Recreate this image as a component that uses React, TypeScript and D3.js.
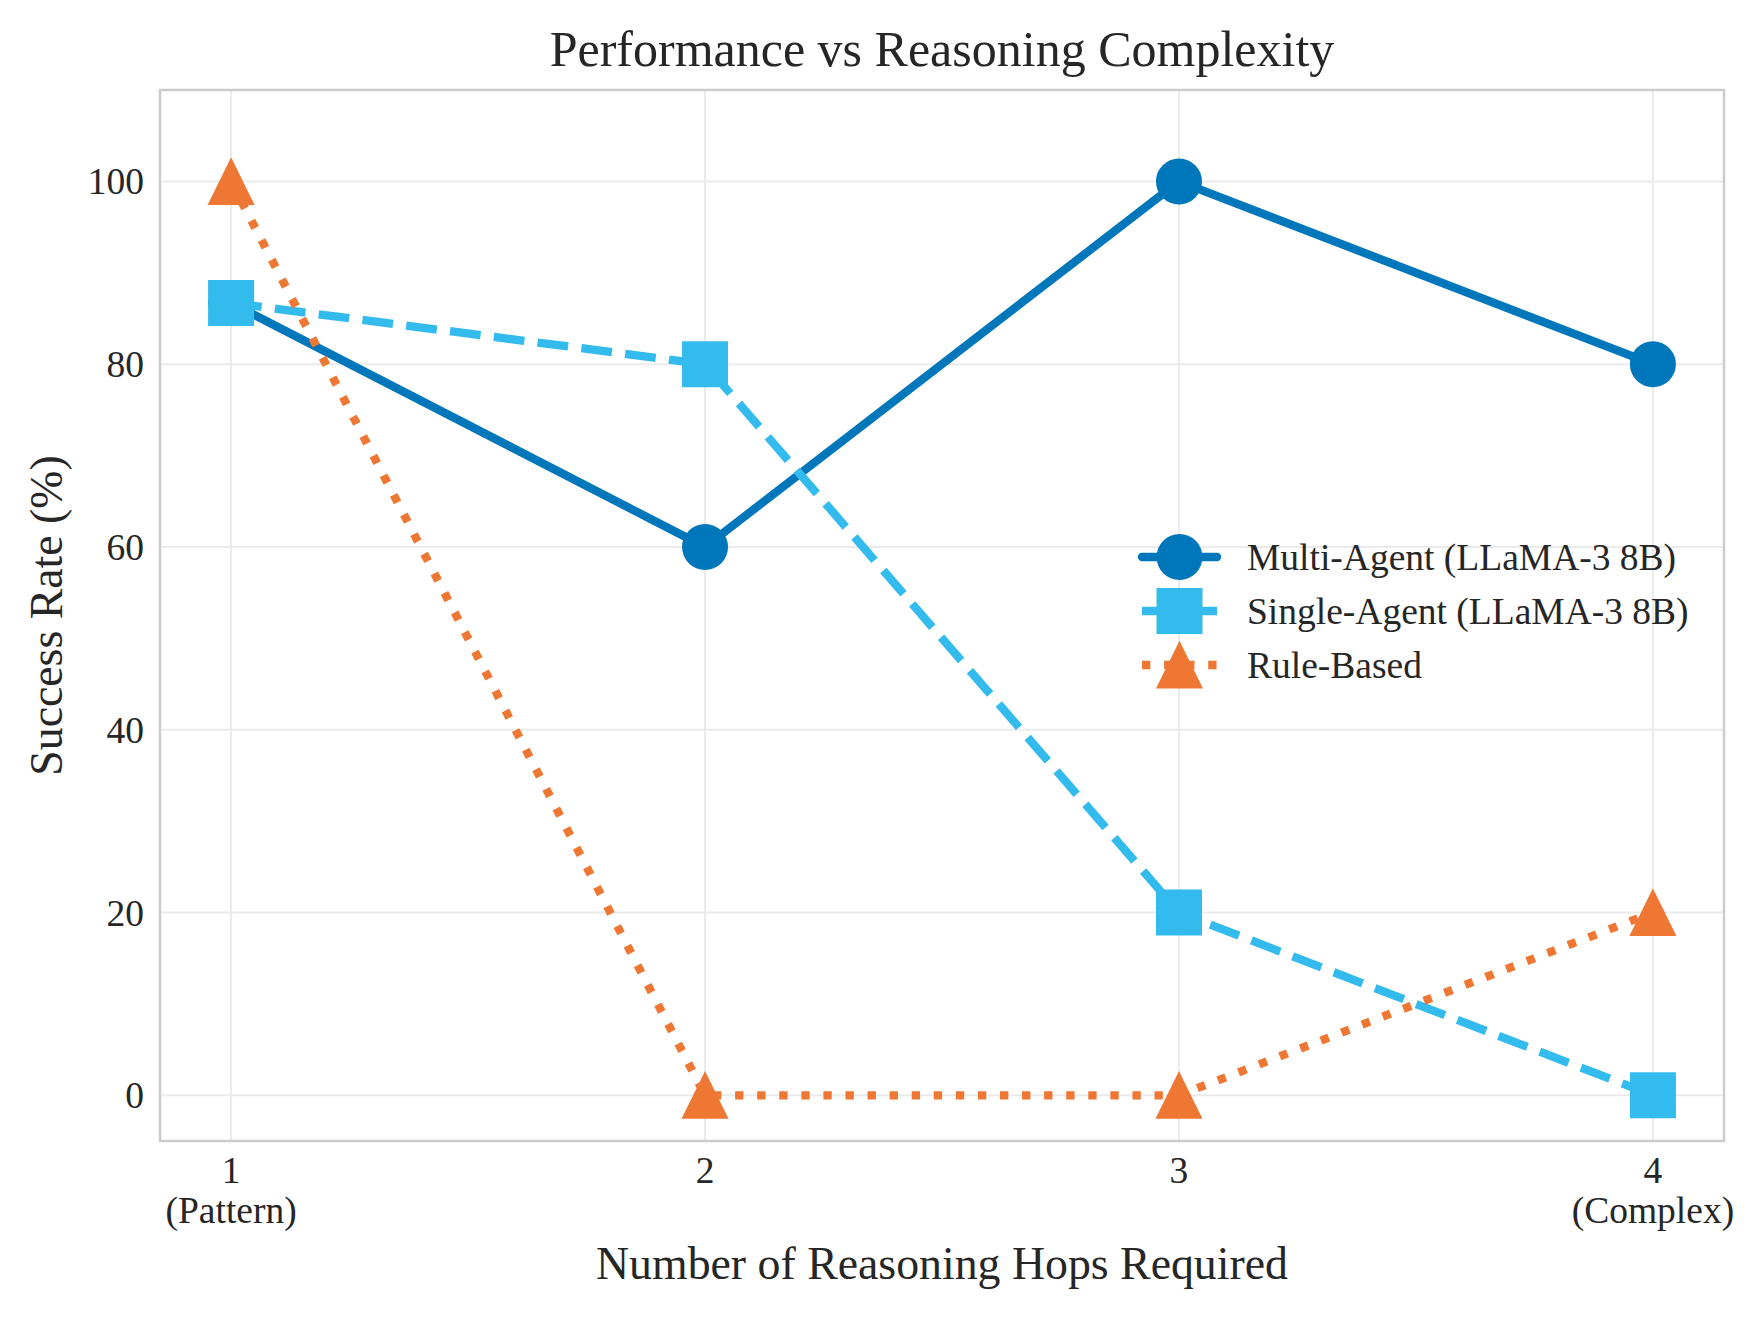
import { useEffect, useRef } from "react";
import * as d3 from "d3";

const hops = [1, 2, 3, 4];
const hopLabels = [["1", "(Pattern)"], ["2"], ["3"], ["4", "(Complex)"]];
const yTicks = [0, 20, 40, 60, 80, 100];

const multiAgent = [86.7, 60, 100, 80];
const singleAgent = [86.7, 80, 20, 0];
const ruleBased = [100, 0, 0, 20];

const seriesNames = ["Multi-Agent (LLaMA-3 8B)", "Single-Agent (LLaMA-3 8B)", "Rule-Based"];

// matplotlib-style "^" marker (width == height)
const symbolTriangleUp = {
  draw(ctx: d3.Path, size: number) {
    const r = Math.sqrt(size) / 2;
    ctx.moveTo(0, -r * 1.03);
    ctx.lineTo(r, r);
    ctx.lineTo(-r, r);
    ctx.closePath();
  },
};

const App = () => {
  const svgRef = useRef<SVGSVGElement>(null);

  useEffect(() => {
    if (!svgRef.current) return;
    const svg = d3.select(svgRef.current);
    svg.selectAll("*").remove();

    const width = 1763;
    const height = 1320;
    const margin = { top: 90, right: 39, bottom: 179, left: 160 };
    const font = '"Liberation Serif", "Times New Roman", serif';
    const textColor = "#262626";
    const lw = 8.33;

    svg.attr("viewBox", `0 0 ${width} ${height}`);

    const x = d3
      .scaleLinear()
      .domain([0.85, 4.15])
      .range([margin.left, width - margin.right]);
    const y = d3
      .scaleLinear()
      .domain([-5, 110])
      .range([height - margin.bottom, margin.top]);

    const series = [
      { name: seriesNames[0], values: multiAgent, color: "#0077BB", dash: null, cap: "round", symbol: d3.symbolCircle, size: Math.PI * 23 * 23 },
      { name: seriesNames[1], values: singleAgent, color: "#33BBEE", dash: `${3.7 * lw} ${1.6 * lw}`, cap: "butt", symbol: d3.symbolSquare, size: 46 * 46 },
      { name: seriesNames[2], values: ruleBased, color: "#EE7733", dash: `${lw} ${1.65 * lw}`, cap: "butt", symbol: symbolTriangleUp, size: 47 * 47 },
    ];

    svg.append("rect").attr("width", width).attr("height", height).attr("fill", "#fff");

    // Grid
    const grid = svg.append("g").attr("stroke", "#EBEBEB").attr("stroke-width", 2);
    grid
      .selectAll("line.gx")
      .data(hops)
      .join("line")
      .attr("class", "gx")
      .attr("x1", (d) => x(d))
      .attr("x2", (d) => x(d))
      .attr("y1", margin.top)
      .attr("y2", height - margin.bottom);
    grid
      .selectAll("line.gy")
      .data(yTicks)
      .join("line")
      .attr("class", "gy")
      .attr("x1", margin.left)
      .attr("x2", width - margin.right)
      .attr("y1", (d) => y(d))
      .attr("y2", (d) => y(d));

    // Lines + markers
    const line = d3
      .line<number>()
      .x((_, i) => x(hops[i]))
      .y((d) => y(d));

    series.forEach((s) => {
      svg
        .append("path")
        .attr("d", line(s.values))
        .attr("fill", "none")
        .attr("stroke", s.color)
        .attr("stroke-width", lw)
        .attr("stroke-linecap", s.cap)
        .attr("stroke-linejoin", "round")
        .attr("stroke-dasharray", s.dash);
      svg
        .selectAll(null)
        .data(s.values)
        .join("path")
        .attr("transform", (d, i) => `translate(${x(hops[i])},${y(d)})`)
        .attr("d", d3.symbol().type(s.symbol as d3.SymbolType).size(s.size)())
        .attr("fill", s.color);
    });

    // Spines
    svg
      .append("rect")
      .attr("x", margin.left)
      .attr("y", margin.top)
      .attr("width", width - margin.left - margin.right)
      .attr("height", height - margin.top - margin.bottom)
      .attr("fill", "none")
      .attr("stroke", "#CCCCCC")
      .attr("stroke-width", 2.5);

    // Y tick labels
    svg
      .selectAll("text.ytick")
      .data(yTicks)
      .join("text")
      .attr("class", "ytick")
      .attr("x", margin.left - 16)
      .attr("y", (d) => y(d) + 13)
      .attr("text-anchor", "end")
      .attr("font-family", font)
      .attr("font-size", 37.5)
      .attr("fill", textColor)
      .text((d) => d);

    // X tick labels (multi-line)
    const xt = svg
      .selectAll("text.xtick")
      .data(hops)
      .join("text")
      .attr("class", "xtick")
      .attr("text-anchor", "middle")
      .attr("font-family", font)
      .attr("font-size", 37.5)
      .attr("fill", textColor);
    xt.selectAll("tspan")
      .data((_, i) => hopLabels[i].map((t) => ({ t, hop: hops[i] })))
      .join("tspan")
      .attr("x", (d) => x(d.hop))
      .attr("y", (_, j) => height - margin.bottom + 42 + j * 40)
      .text((d) => d.t);

    // Axis labels and title
    svg
      .append("text")
      .attr("x", (margin.left + width - margin.right) / 2)
      .attr("y", 1279)
      .attr("text-anchor", "middle")
      .attr("font-family", font)
      .attr("font-size", 45.8)
      .attr("fill", textColor)
      .text("Number of Reasoning Hops Required");

    svg
      .append("text")
      .attr("transform", `translate(62,${(margin.top + height - margin.bottom) / 2}) rotate(-90)`)
      .attr("text-anchor", "middle")
      .attr("font-family", font)
      .attr("font-size", 45.8)
      .attr("fill", textColor)
      .text("Success Rate (%)");

    svg
      .append("text")
      .attr("x", (margin.left + width - margin.right) / 2)
      .attr("y", 66)
      .attr("text-anchor", "middle")
      .attr("font-family", font)
      .attr("font-size", 50)
      .attr("fill", textColor)
      .text("Performance vs Reasoning Complexity");

    // Legend
    const legendX = 1142;
    const legendY = 557;
    const rowGap = 54;
    const handleLen = 75;
    const legend = svg.append("g").attr("transform", `translate(${legendX},${legendY})`);
    series.forEach((s, i) => {
      const row = legend.append("g").attr("transform", `translate(0,${i * rowGap})`);
      row
        .append("line")
        .attr("x1", 0)
        .attr("x2", handleLen)
        .attr("stroke", s.color)
        .attr("stroke-width", lw)
        .attr("stroke-linecap", s.cap)
        .attr("stroke-dasharray", s.dash);
      row
        .append("path")
        .attr("transform", `translate(${handleLen / 2},0)`)
        .attr("d", d3.symbol().type(s.symbol as d3.SymbolType).size(s.size)())
        .attr("fill", s.color);
      row
        .append("text")
        .attr("x", handleLen + 30)
        .attr("y", 13)
        .attr("font-family", font)
        .attr("font-size", 37.5)
        .attr("fill", textColor)
        .text(s.name);
    });
  }, []);

  return (
    <svg
      ref={svgRef}
      width={1763}
      height={1320}
      style={{ position: "absolute", left: 0, top: 0, display: "block" }}
    />
  );
};

export default App;
